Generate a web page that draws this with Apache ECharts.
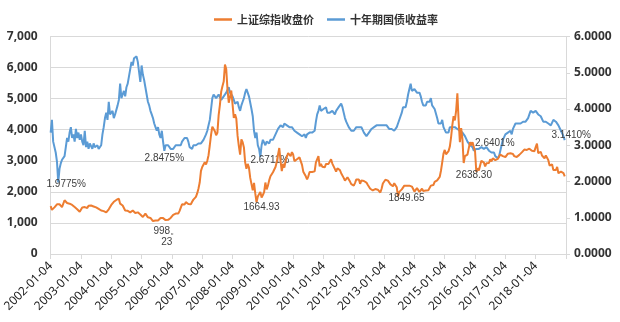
<!DOCTYPE html>
<html>
<head>
<meta charset="utf-8">
<script src="https://cdn.jsdelivr.net/npm/echarts@6/dist/echarts.min.js"></script>
<style>
html,body{margin:0;padding:0;background:#fff;}
#chart{width:620px;height:322px;}
</style>
</head>
<body>
<div id="chart"></div>
<script>
// Semi-monthly categories (the 4th and 19th of every month), 2002-01 .. 2018-12, axis ends at 2019-01-04
const categories = [];
for (let y = 2002; y <= 2018; y++) {
  for (let m = 1; m <= 12; m++) {
    const mm = String(m).padStart(2, '0');
    categories.push(y + '-' + mm + '-04', y + '-' + mm + '-19');
  }
}
categories.push('2019-01-04');

// 上证综指收盘价 (left axis)
const shIndex = [
  1540,1420, 1470,1500, 1560,1600, 1620,1600, 1560,1510, 1550,1730, 1680,1640, 1640,1620, 1600,1580, 1530,1510, 1480,1440, 1400,1360,
  1410,1500, 1510,1510, 1510,1480, 1550,1520, 1560,1580, 1530,1490, 1500,1480, 1450,1420, 1400,1370, 1380,1350, 1340,1400, 1440,1500,
  1580,1590, 1680,1680, 1740,1740, 1780,1620, 1600,1560, 1500,1400, 1390,1390, 1360,1340, 1300,1400, 1380,1320, 1340,1340, 1290,1270,
  1250,1190, 1240,1300, 1250,1180, 1200,1160, 1100,1060, 998,1080, 1030,1080, 1130,1160, 1200,1155, 1130,1090, 1090,1100, 1120,1160,
  1210,1260, 1290,1300, 1290,1300, 1380,1440, 1600,1640, 1590,1670, 1700,1610, 1600,1600, 1680,1750, 1800,1840, 1950,2100, 2300,2675,
  2800,2780, 2950,2880, 3000,3180, 3500,3840, 4100,4110, 3950,3820, 3900,4470, 4800,5220, 5400,5550, 6100,5950, 5300,4870, 5050,5260,
  5200,4380, 4500,4350, 3800,3470, 3200,3690, 3600,3430, 2950,2740, 2900,2780, 2450,2400, 2050,2290, 1950,1664.93, 1850,1870, 2000,1820,
  1900,1990, 2300,2080, 2200,2370, 2500,2480, 2630,2630, 2800,2960, 3200,3410, 3000,2670, 2900,2780, 3000,3000, 3250,3200, 3150,3280,
  3200,2990, 3020,3050, 3050,3110, 3150,2870, 2650,2590, 2500,2400, 2500,2640, 2650,2640, 2600,2660, 2950,2980, 3150,2820, 2900,2810,
  2750,2790, 2900,2900, 2900,2930, 3050,2910, 2850,2740, 2650,2760, 2800,2700, 2600,2570, 2450,2360, 2350,2470, 2450,2330, 2250,2200,
  2200,2290, 2400,2430, 2400,2260, 2370,2400, 2350,2370, 2300,2230, 2170,2100, 2100,2050, 2030,2090, 2100,2070, 2020,1980, 2100,2270,
  2300,2390, 2420,2360, 2300,2240, 2210,2180, 2280,2300, 2150,1849.65, 2000,1990, 2080,2100, 2200,2170, 2200,2140, 2200,2220, 2170,2120,
  2010,2030, 2120,2060, 2000,2030, 2100,2030, 2030,2040, 2050,2050, 2060,2200, 2230,2220, 2320,2360, 2370,2420, 2480,2680, 2950,3230,
  3350,3210, 3250,3310, 3450,3750, 4150,4440, 4300,4610, 5170,4280, 3600,4050, 3700,2930, 3150,3100, 3200,3400, 3600,3500, 3600,3550,
  3300,2638.30, 2760,2690, 2850,3000, 3050,2940, 2820,2920, 2890,2930, 3050,2980, 3080,3090, 3020,3000, 3060,3100, 3200,3250, 3150,3100,
  3120,3160, 3230,3240, 3240,3220, 3220,3150, 3090,3120, 3140,3190, 3230,3270, 3250,3360, 3370,3350, 3390,3390, 3400,3320, 3270,3310,
  3440,3550, 3250,3220, 3290,3170, 3110,3080, 3170,3100, 3020,2850, 2830,2880, 2700,2730, 2700,2800, 2600,2550, 2650,2590, 2600,2500,
  null
];

// 十年期国债收益率 (right axis, %)
const bondYield = [
  3.35,3.7, 3.1,3.05, 2.8,2.55, 1.9775,2.35, 2.5,2.6, 2.55,2.7, 2.95,3.2, 3.1,3.35, 3.5,3.2, 3.3,3.1, 3.45,3.2, 3.35,3.15,
  3.3,3.1, 3.0,3.4, 2.95,3.1, 2.9,3.05, 3.0,2.9, 3.05,2.95, 2.95,3.0, 2.9,2.95, 3.0,3.3, 3.5,3.75, 3.9,3.7, 4.2,3.85,
  3.8,3.95, 3.75,3.85, 3.9,4.1, 4.25,4.7, 4.3,4.4, 4.5,4.35, 4.6,4.7, 4.9,5.1, 5.3,5.2, 5.4,5.35, 5.45,5.3, 5.3,4.75,
  5.2,4.95, 4.8,4.6, 4.4,4.2, 4.1,3.95, 3.85,3.75, 3.6,3.5, 3.4,3.5, 3.3,3.2, 3.4,3.1, 2.8475,3.0, 2.95,3.0, 2.95,2.9,
  2.95,2.9, 2.95,3.0, 3.0,3.0, 3.05,3.0, 3.1,3.15, 3.2,3.25, 3.2,3.1, 2.95,2.95, 2.9,3.0, 3.0,3.0, 3.05,3.05, 3.0,3.05,
  3.05,3.15, 3.2,3.3, 3.4,3.55, 3.7,4.0, 4.3,4.4, 4.35,4.3, 4.35,4.4, 4.35,4.25, 4.3,4.35, 4.4,4.45, 4.5,4.6, 4.45,4.4,
  4.35,4.25, 4.15,4.1, 4.2,4.05, 3.95,4.1, 4.2,4.3, 4.45,4.55, 4.45,4.35, 4.3,4.0, 3.8,3.4, 3.2,3.35, 3.0,2.9, 2.6711,3.0,
  3.15,3.1, 3.0,3.1, 3.1,3.05, 3.15,3.1, 3.15,3.2, 3.3,3.35, 3.45,3.5, 3.55,3.6, 3.5,3.6, 3.65,3.55, 3.6,3.5, 3.45,3.5,
  3.45,3.4, 3.35,3.35, 3.3,3.3, 3.3,3.25, 3.25,3.3, 3.2,3.3, 3.25,3.35, 3.3,3.35, 3.3,3.4, 3.65,3.85, 3.95,4.1, 3.95,3.9,
  4.0,3.95, 4.05,3.9, 3.85,3.9, 3.85,3.95, 3.9,3.85, 3.95,4.0, 4.05,4.1, 4.15,4.05, 3.9,3.75, 3.65,3.6, 3.5,3.45, 3.4,3.45,
  3.4,3.45, 3.5,3.5, 3.5,3.55, 3.5,3.45, 3.35,3.3, 3.25,3.3, 3.35,3.4, 3.45,3.45, 3.5,3.55, 3.55,3.55, 3.55,3.55, 3.55,3.55,
  3.55,3.55, 3.55,3.5, 3.45,3.45, 3.45,3.4, 3.4,3.45, 3.5,3.6, 3.65,3.8, 3.9,4.05, 4.1,4.05, 4.2,4.4, 4.55,4.7, 4.5,4.55,
  4.55,4.5, 4.45,4.4, 4.45,4.35, 4.2,4.1, 4.05,4.1, 4.2,4.25, 4.2,4.3, 4.1,4.05, 4.0,3.95, 3.75,3.6, 3.55,3.6, 3.7,3.5,
  3.45,3.35, 3.4,3.35, 3.5,3.55, 3.5,3.45, 3.5,3.55, 3.45,3.5, 3.4,3.45, 3.35,3.3, 3.25,3.2, 3.1,3.05, 3.0,3.05, 2.95,2.85,
  2.85,2.9, 2.85,2.9, 2.9,2.95, 2.95,2.9, 2.95,2.95, 2.95,2.85, 2.8,2.8, 2.75,2.8, 2.7,2.7, 2.6401,2.7, 2.85,3.0, 3.15,3.2,
  3.3,3.35, 3.35,3.4, 3.4,3.3, 3.45,3.5, 3.6,3.65, 3.6,3.55, 3.6,3.65, 3.65,3.6, 3.65,3.7, 3.75,3.85, 3.95,3.95, 3.9,3.9,
  3.95,3.9, 3.85,3.85, 3.8,3.75, 3.65,3.6, 3.65,3.6, 3.6,3.65, 3.55,3.6, 3.7,3.65, 3.65,3.6, 3.55,3.5, 3.4,3.35, 3.25,3.141,
  null
];

// Axis tick labels
const leftTicks = [0, 1000, 2000, 3000, 4000, 5000, 6000, 7000];
const rightTicks = [0, 1, 2, 3, 4, 5, 6];

// Data-label annotations
const indexNoteDates = ['2005-06-04', '2008-10-19', '2013-06-19', '2016-01-19'];
const indexNoteTexts = ['998。\n23', '1664.93', '1849.65', '2638.30'];
const yieldNoteDates = ['2002-04-04', '2005-10-04', '2008-12-04', '2016-10-04', '2018-12-19'];
const yieldNoteTexts = ['1.9775%', '2.8475%', '2.6711%', '2.6401%', '3.1410%'];

// label offsets (style only)
const indexNoteOffsets = [[12.5, 14], [5, 5], [8.5, 2], [-2.4, 3.6]];
const yieldNoteOffsets = [[8, 2], [0, 7], [9.5, 3.5], [-3, -15.4], [6.5, -5]];

const labelStyle = { color: '#404040', fontSize: 10, fontFamily: 'Liberation Sans', lineHeight: 11.5 };

function buildData(values, dates, texts, offsets) {
  return values.map((v, i) => {
    const k = dates.indexOf(categories[i]);
    if (k < 0) return v;
    return {
      value: v,
      label: Object.assign({ show: true, position: 'inside', formatter: texts[k], offset: offsets[k], align: 'center' }, labelStyle)
    };
  });
}

const isYearStart = (idx, val) => /-01-04$/.test(val);
const axisColor = '#d9d9d9';
const tickFont = { color: '#333', fontSize: 12, fontWeight: 'bold', fontFamily: 'Noto Sans' };

const chart = echarts.init(document.getElementById('chart'), null, { renderer: 'canvas' });
chart.setOption({
  animation: false,
  backgroundColor: '#fff',
  legend: {
    data: ['上证综指收盘价', '十年期国债收益率'],
    top: 9, left: 209,
    icon: 'rect', itemWidth: 18, itemHeight: 2.5, itemGap: 13,
    textStyle: { color: '#333', fontSize: 11, fontWeight: 'bold', fontFamily: 'Noto Sans CJK SC' }
  },
  grid: { left: 48, right: 54, top: 36.5, bottom: 68, containLabel: false },
  xAxis: {
    type: 'category', data: categories, boundaryGap: false,
    axisLine: { show: true, lineStyle: { color: axisColor } },
    axisTick: { show: true, interval: isYearStart, length: 5, lineStyle: { color: axisColor } },
    axisLabel: Object.assign({
      interval: (idx, val) => isYearStart(idx, val) && val !== '2019-01-04',
      rotate: 45, margin: 10
    }, tickFont, { fontWeight: 'normal', color: '#222' }),
    splitLine: { show: false }
  },
  yAxis: [
    {
      type: 'value', position: 'left', min: leftTicks[0], max: leftTicks[leftTicks.length - 1], interval: 1000,
      axisLine: { show: true, lineStyle: { color: axisColor } },
      axisTick: { show: false },
      splitLine: { show: true, lineStyle: { color: axisColor, width: 1 } },
      axisLabel: Object.assign({ margin: 13, formatter: v => v.toLocaleString('en-US') }, tickFont)
    },
    {
      type: 'value', position: 'right', min: rightTicks[0], max: rightTicks[rightTicks.length - 1], interval: 1,
      axisLine: { show: true, lineStyle: { color: axisColor } },
      axisTick: { show: true, length: 4, inside: false, lineStyle: { color: axisColor } },
      splitLine: { show: false },
      axisLabel: Object.assign({ margin: 8, formatter: v => v.toFixed(4) }, tickFont)
    }
  ],
  series: [
    {
      name: '十年期国债收益率', type: 'line', yAxisIndex: 1,
      data: buildData(bondYield, yieldNoteDates, yieldNoteTexts, yieldNoteOffsets),
      symbol: 'circle', symbolSize: 0, showSymbol: true, showAllSymbol: true,
      lineStyle: { color: '#5B9BD5', width: 2 }, itemStyle: { color: '#5B9BD5' },
      silent: true, z: 2
    },
    {
      name: '上证综指收盘价', type: 'line', yAxisIndex: 0,
      data: buildData(shIndex, indexNoteDates, indexNoteTexts, indexNoteOffsets),
      symbol: 'circle', symbolSize: 0, showSymbol: true, showAllSymbol: true,
      lineStyle: { color: '#ED7D31', width: 2 }, itemStyle: { color: '#ED7D31' },
      silent: true, z: 3
    }
  ]
});
</script>
</body>
</html>
